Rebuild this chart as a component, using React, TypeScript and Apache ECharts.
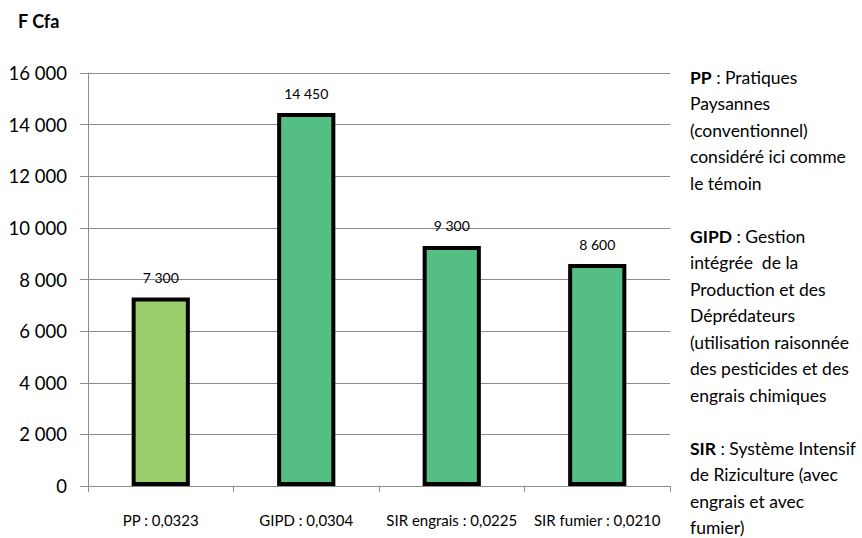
import React, { useEffect, useRef } from "react";
import * as echarts from "echarts";

const categories = ["PP : 0,0323", "GIPD : 0,0304", "SIR engrais : 0,0225", "SIR fumier : 0,0210"];
const values = [7300, 14450, 9300, 8600];
const barColors = ["#9ACF6B", "#55BE84", "#55BE84", "#55BE84"];
const yTicks = [0, 2000, 4000, 6000, 8000, 10000, 12000, 14000, 16000];
const unitTitle = "F Cfa";
const notes: [string, string[]][] = [
  ["PP", [" : Pratiques", "Paysannes", "(conventionnel)", "considéré ici comme", "le témoin"]],
  ["GIPD", [" : Gestion", "intégrée  de la", "Production et des", "Déprédateurs", "(utilisation raisonnée", "des pesticides et des", "engrais chimiques"]],
  ["SIR", [" : Système Intensif", "de Riziculture (avec", "engrais et avec", "fumier)"]],
];

const fmt = (v: number) => {
  const s = String(Math.round(v));
  return s.replace(/\B(?=(\d{3})+(?!\d))/g, " ");
};

const FONT = "Lato, 'Open Sans', sans-serif";

export default function App() {
  const ref = useRef<HTMLDivElement>(null);
  useEffect(() => {
    document.body.style.margin = "0";
    if (!ref.current) return;
    const chart = echarts.init(ref.current, undefined, { renderer: "svg" });
    const lines: string[] = [];
    notes.forEach(([b, rest], i) => {
      if (i > 0) lines.push("{n| }");
      lines.push("{b|" + b + "}{n|" + rest[0] + "}");
      rest.slice(1).forEach((l) => lines.push("{n|" + l + "}"));
    });
    chart.setOption({
      animation: false,
      grid: { left: 88, right: 192, top: 73, bottom: 52, containLabel: false },
      graphic: [
        {
          type: "text",
          left: 18,
          top: 12,
          style: { text: unitTitle, font: "bold 18px " + FONT, fill: "#000" },
        },
        {
          type: "text",
          left: 690,
          top: 68,
          style: {
            text: lines.join("\n"),
            rich: {
              b: { font: "bold 17.5px " + FONT, fill: "#000", lineHeight: 26.5 },
              n: { font: "17.5px " + FONT, fill: "#000", lineHeight: 26.5 },
            },
          },
        },
      ],
      xAxis: {
        type: "category",
        data: categories,
        axisLine: { lineStyle: { color: "#8c8c8c", width: 1 } },
        axisTick: { show: true, alignWithLabel: false, length: 6, lineStyle: { color: "#8c8c8c" } },
        axisLabel: { color: "#000", fontSize: 15, fontFamily: FONT, margin: 26, interval: 0 },
      },
      yAxis: {
        type: "value",
        min: 0,
        max: 16000,
        interval: 2000,
        axisLine: { show: true, lineStyle: { color: "#8c8c8c", width: 1 } },
        axisTick: { show: true, length: 8, lineStyle: { color: "#8c8c8c" } },
        splitLine: { show: true, lineStyle: { color: "#8c8c8c", width: 1 } },
        axisLabel: {
          color: "#000",
          fontSize: 18.5,
          fontFamily: FONT,
          margin: 21,
          formatter: (v: number) => (yTicks.includes(v) ? fmt(v) : ""),
        },
      },
      series: [
        {
          type: "bar",
          barWidth: "40%",
          data: values.map((v, i) => ({
            value: v,
            itemStyle: { color: barColors[i], borderColor: "#000", borderWidth: 4 },
          })),
          label: {
            show: true,
            position: "top",
            distance: 13,
            color: "#000",
            fontSize: 14,
            fontFamily: FONT,
            formatter: (p: any) => fmt(p.value),
          },
        },
      ],
    });
    return () => chart.dispose();
  }, []);
  return <div ref={ref} style={{ width: 862, height: 538 }} />;
}
